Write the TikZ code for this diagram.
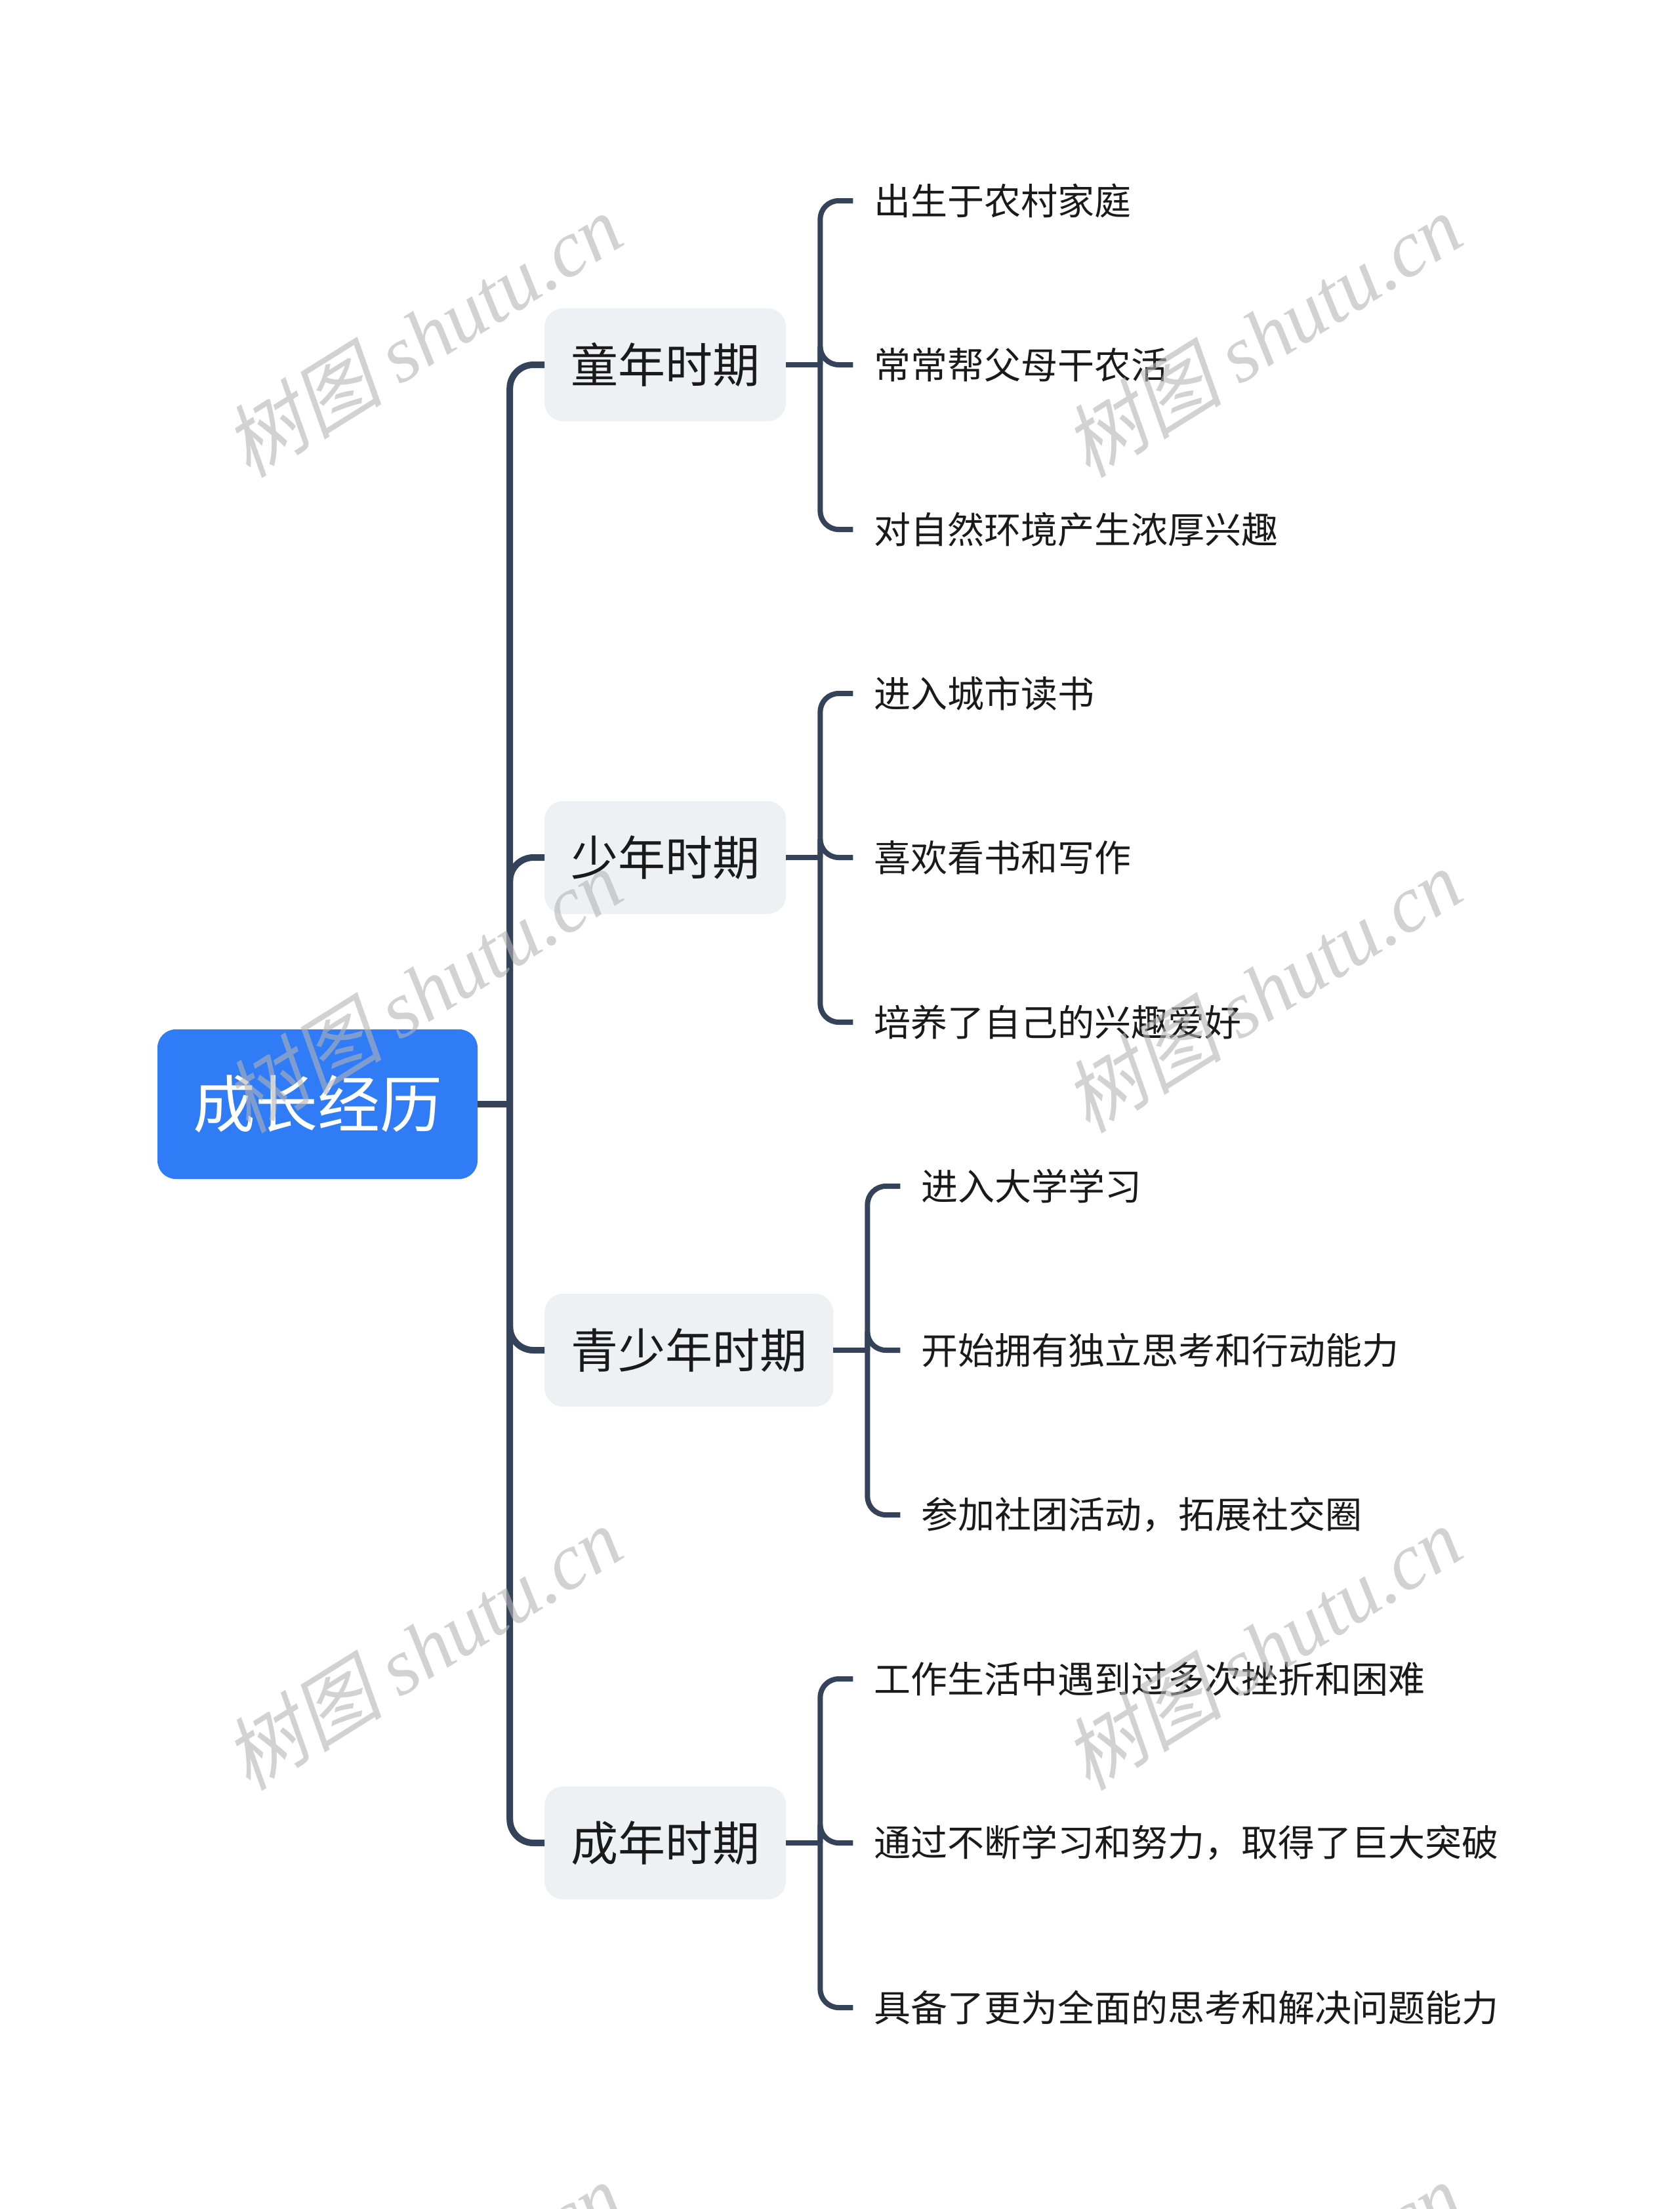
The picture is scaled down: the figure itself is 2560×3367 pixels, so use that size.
\documentclass[tikz,border=0pt]{standalone}
\usepackage{fontspec}
\setmainfont{Noto Sans CJK SC}
\newfontfamily\wmcjk[FakeSlant=0.22]{Noto Sans CJK SC}
\newfontfamily\wmlat{Liberation Serif}
\usetikzlibrary{calc}
\definecolor{rootblue}{HTML}{2F7CF6}
\definecolor{branchbg}{HTML}{EEF1F4}
\definecolor{linec}{HTML}{35435A}
\definecolor{txt}{HTML}{1A1A1A}
\definecolor{wm}{HTML}{B4B4B4}
\begin{document}
\begin{tikzpicture}[x=1pt,y=-1pt,
  conn/.style={draw=linec,line width=10pt,rounded corners=36pt},
  sub/.style={draw=linec,line width=8pt,rounded corners=28pt},
  rootnode/.style={fill=rootblue,rounded corners=28pt,minimum width=488pt,minimum height=228pt,text=white,font=\fontsize{95}{110}\selectfont,inner sep=0pt},
  branch/.style={fill=branchbg,rounded corners=28pt,minimum height=172pt,inner xsep=40pt,inner ysep=0pt,anchor=west,text=txt,font=\fontsize{72}{86}\selectfont},
  leaf/.style={anchor=west,inner xsep=32pt,inner ysep=0pt,text=txt,font=\fontsize{56}{68}\selectfont},
  wmark/.style={rotate=32,text=wm,opacity=0.6,inner sep=0pt}
]
\useasboundingbox[fill=white] (0,0) rectangle (2560,3367);

% root and branches
\node[rootnode] (root) at (484,1683) {成长经历};
\node[branch] (b1) at (830,556) {童年时期};
\node[branch] (b2) at (830,1307) {少年时期};
\node[branch] (b3) at (830,2058) {青少年时期};
\node[branch] (b4) at (830,2809) {成年时期};

% leaves
\node[leaf] (c11) at ($(b1.east)+(102,-250)$) {出生于农村家庭};
\node[leaf] (c12) at ($(b1.east)+(102,0)$) {常常帮父母干农活};
\node[leaf] (c13) at ($(b1.east)+(102,251)$) {对自然环境产生浓厚兴趣};
\node[leaf] (c21) at ($(b2.east)+(102,-250)$) {进入城市读书};
\node[leaf] (c22) at ($(b2.east)+(102,0)$) {喜欢看书和写作};
\node[leaf] (c23) at ($(b2.east)+(102,251)$) {培养了自己的兴趣爱好};
\node[leaf] (c31) at ($(b3.east)+(102,-250)$) {进入大学学习};
\node[leaf] (c32) at ($(b3.east)+(102,0)$) {开始拥有独立思考和行动能力};
\node[leaf] (c33) at ($(b3.east)+(102,251)$) {参加社团活动，拓展社交圈};
\node[leaf] (c41) at ($(b4.east)+(102,-250)$) {工作生活中遇到过多次挫折和困难};
\node[leaf] (c42) at ($(b4.east)+(102,0)$) {通过不断学习和努力，取得了巨大突破};
\node[leaf] (c43) at ($(b4.east)+(102,251)$) {具备了更为全面的思考和解决问题能力};

% trunk connectors
\draw[conn] (root.east) -- ++(49,0) coordinate (tr);
\draw[conn] (tr) |- (b1.west);
\draw[conn] (tr) |- (b2.west);
\draw[conn] (tr) |- (b3.west);
\draw[conn] (tr) |- (b4.west);

% brackets
\draw[sub] (b1.east) -- ++(52,0) coordinate (k1);
\draw[sub] (k1) |- (c11.west);
\draw[sub] (k1) |- (c12.west);
\draw[sub] (k1) |- (c13.west);
\draw[sub] (b2.east) -- ++(52,0) coordinate (k2);
\draw[sub] (k2) |- (c21.west);
\draw[sub] (k2) |- (c22.west);
\draw[sub] (k2) |- (c23.west);
\draw[sub] (b3.east) -- ++(52,0) coordinate (k3);
\draw[sub] (k3) |- (c31.west);
\draw[sub] (k3) |- (c32.west);
\draw[sub] (k3) |- (c33.west);
\draw[sub] (b4.east) -- ++(52,0) coordinate (k4);
\draw[sub] (k4) |- (c41.west);
\draw[sub] (k4) |- (c42.west);
\draw[sub] (k4) |- (c43.west);

% watermarks
\foreach \i/\wx/\wy in {1/644/511,2/1924/511,3/644/1510,4/1924/1510,5/644/2512,6/1924/2512,7/644/3512,8/1924/3512}{
  \node[wmark] (wm\i) at (\wx,\wy) {\fontsize{122}{140}\selectfont\wmcjk 树图 \wmlat\itshape shutu.cn};
}
\end{tikzpicture}
\end{document}
